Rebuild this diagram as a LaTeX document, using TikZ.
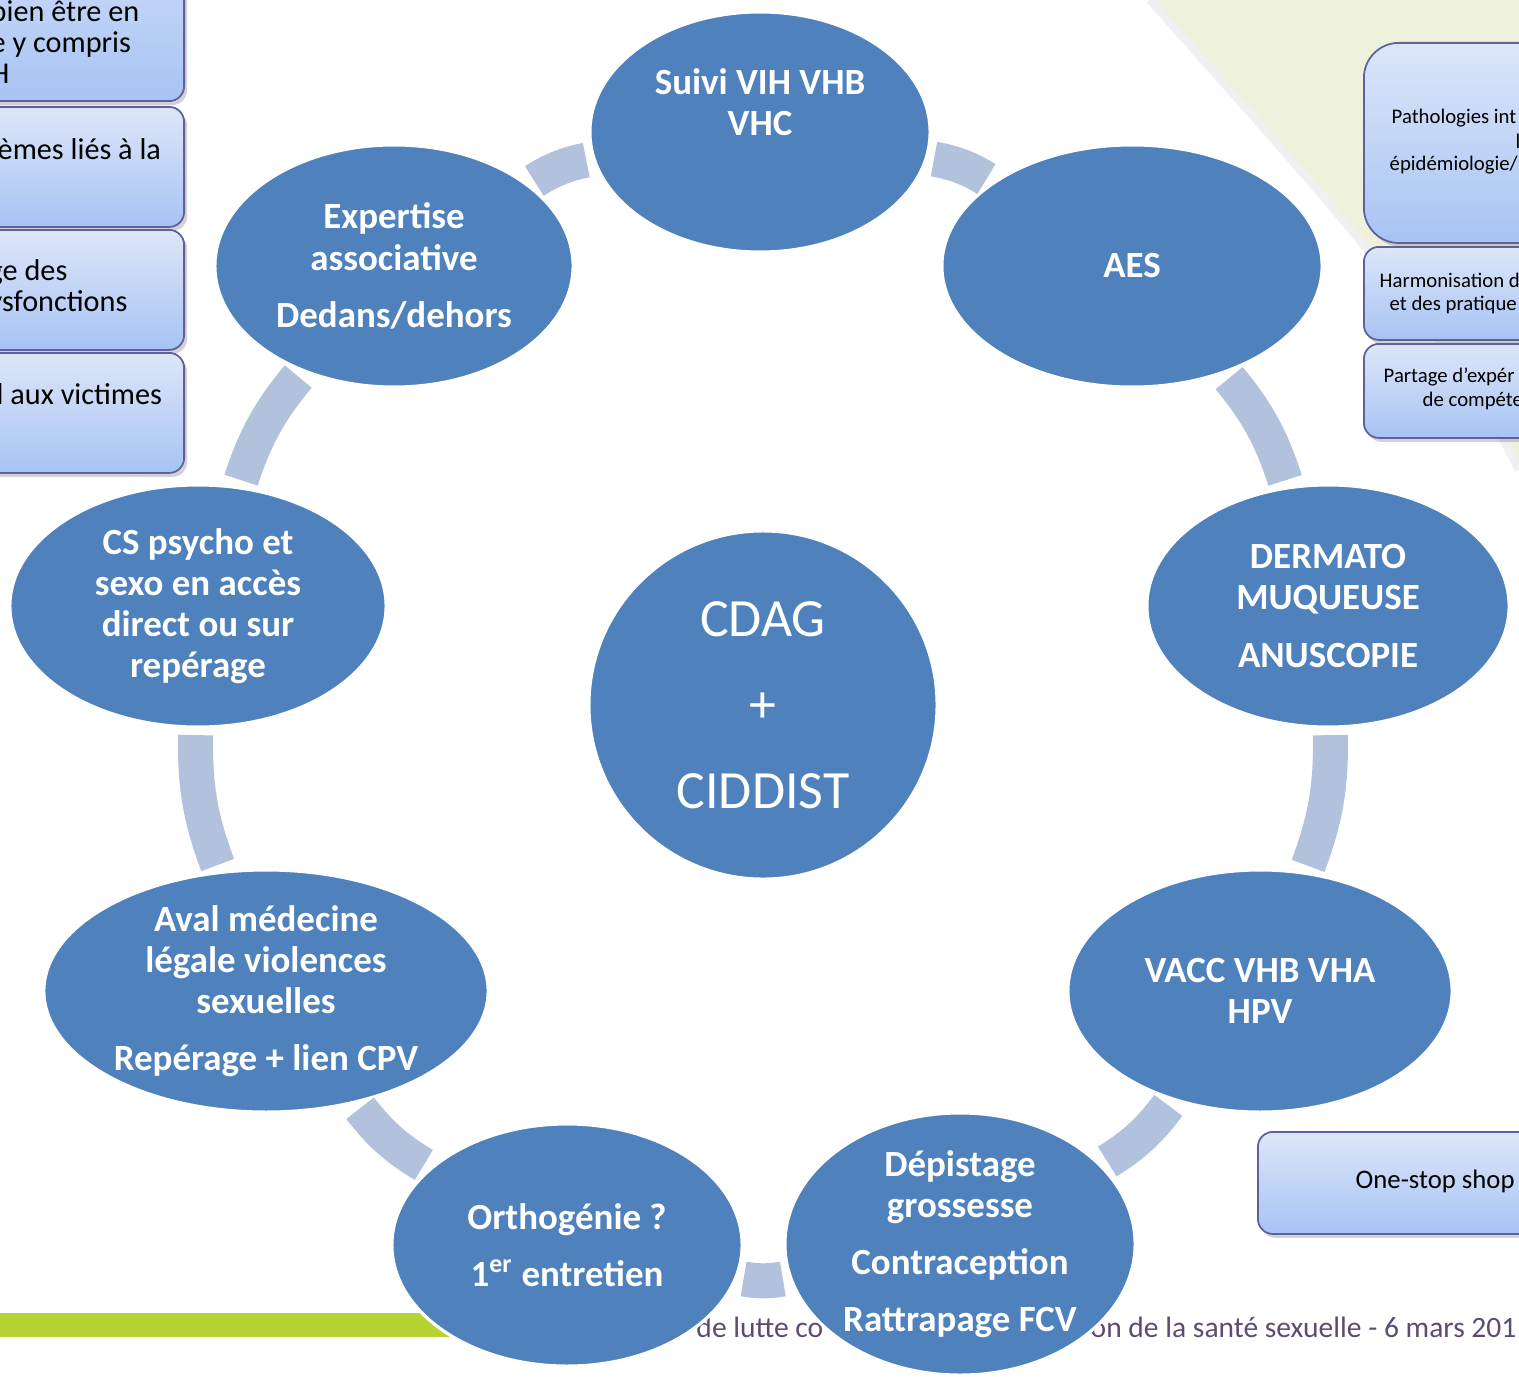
\documentclass[tikz,border=0pt]{standalone}
\usepackage{fontspec}
\setmainfont{Carlito}
\usetikzlibrary{shapes.geometric, shadows, positioning}

\definecolor{bleu}{HTML}{4F81BD}
\definecolor{anneau}{HTML}{B2C1DC}
\definecolor{haut}{HTML}{DDE6F8}
\definecolor{bas}{HTML}{A7C3F4}
\definecolor{vert}{HTML}{B6D333}
\definecolor{creme}{HTML}{EEF2DD}
\definecolor{pied}{HTML}{5E4B72}

\tikzset{
  bulle/.style={ellipse, fill=bleu, draw=white, line width=0.9pt, inner sep=0pt, outer sep=0pt},
  texte/.style={text=white, font=\bfseries\fontsize{10.5}{11.7}\selectfont, align=center},
  lien/.style={draw=anneau, line width=0.35cm, shorten <=0.08cm, shorten >=0.08cm},
  boite/.style={draw=gray!75!blue, line width=0.5pt, top color=haut, bottom color=bas,
    drop shadow={shadow xshift=0.03cm, shadow yshift=-0.04cm, opacity=0.35}},
  bribe/.style={inner sep=0pt, anchor=west, font=\fontsize{5.9}{6.8}\selectfont},
  bribeg/.style={inner sep=0pt, anchor=west, align=left, font=\fontsize{8.6}{8.7}\selectfont},
}

\begin{document}
\begin{tikzpicture}[x=0.01cm, y=-0.01cm]
    \useasboundingbox (0,0) rectangle (1519,1376);
    \clip (0,0) rectangle (1519,1376);
    \fill[white] (0,0) rectangle (1519,1376);

    % fond vert en haut a droite
    \fill[creme] (1150,0) .. controls (1300,170) and (1450,330) .. (1519,470) -- (1519,0) -- cycle;
    \draw[gray!12, line width=0.08cm] (1150,0) .. controls (1300,170) and (1450,330) .. (1519,470);

    % barre verte et pied de page
    \fill[vert] (0,1313) rectangle (650,1337);
    \node[inner sep=0pt, anchor=east, text=pied, font=\fontsize{8.4}{10}\selectfont] (pied1) at (824,1327) {de lutte co};
    \node[inner sep=0pt, anchor=west, text=pied, font=\fontsize{8.4}{10}\selectfont] (pied2) at (1090,1327) {on de la santé sexuelle - 6 mars 201};

    % boites de gauche
    \node[boite, rounded corners=0.15cm, minimum width=4cm, minimum height=2.2cm, anchor=south east] (g1) at (185,102) {};
    \node[boite, rounded corners=0.15cm, minimum width=4cm, minimum height=1.2cm, anchor=north east] (g2) at (185,106) {};
    \node[boite, rounded corners=0.15cm, minimum width=4cm, minimum height=1.2cm, anchor=north east] (g3) at (185,229) {};
    \node[boite, rounded corners=0.15cm, minimum width=4cm, minimum height=1.2cm, anchor=north east] (g4) at (185,352) {};
    \node[bribeg] (tg1) at (-10,42) {bien être en\\e y compris\\H};
    \node[bribeg] (tg2) at (-3,149) {èmes liés à la};
    \node[bribeg] (tg3) at (-12,288) {ge des\\ysfonctions};
    \node[bribeg] (tg4) at (-4,394) {l aux victimes};

    % boites de droite
    \node[boite, rounded corners=0.35cm, minimum width=3cm, minimum height=2.0cm, anchor=north west] (d1) at (1363,42) {};
    \node[boite, rounded corners=0.15cm, minimum width=3cm, minimum height=0.93cm, anchor=north west] (d2) at (1363,246) {};
    \node[boite, rounded corners=0.15cm, minimum width=3cm, minimum height=0.94cm, anchor=north west] (d3) at (1363,343) {};
    \node[boite, rounded corners=0.15cm, minimum width=4cm, minimum height=1.02cm, anchor=north west] (shop) at (1257,1131) {};
    \node[bribe] (td1a) at (1391,118) {Pathologies int};
    \node[bribe] (td1b) at (1515,141) {l};
    \node[bribe] (td1c) at (1389,165) {épidémiologie/};
    \node[bribe] (td2a) at (1379,280) {Harmonisation d};
    \node[bribe] (td2b) at (1389,305) {et des pratique};
    \node[bribe] (td3a) at (1383,377) {Partage d’expér};
    \node[bribe] (td3b) at (1422,401) {de compéte};
    \node[bribeg, font=\fontsize{7.6}{8}\selectfont] (tshop) at (1355,1181) {One-stop shop};

    % centre
    \node[circle, fill=bleu, draw=white, line width=0.9pt, minimum size=3.48cm, inner sep=0pt,
      label={[text=white, align=center, font=\fontsize{15.3}{24.5}\selectfont]center:{CDAG\\+\\CIDDIST}}] (centre) at (763,705) {};

    % bulles autour
    \node[bulle, minimum width=3.40cm, minimum height=2.40cm,
      label={[texte, yshift=0.30cm]center:{Suivi VIH VHB\\VHC}}] (suivi) at (760,132) {};
    \node[bulle, minimum width=3.80cm, minimum height=2.42cm,
      label={[texte]center:{AES}}] (aes) at (1132,266) {};
    \node[bulle, minimum width=3.62cm, minimum height=2.42cm,
      label={[texte]center:{DERMATO\\MUQUEUSE\\[0.16cm]ANUSCOPIE}}] (dermato) at (1328,606) {};
    \node[bulle, minimum width=3.84cm, minimum height=2.42cm,
      label={[texte]center:{VACC VHB VHA\\HPV}}] (vacc) at (1260,991) {};
    \node[bulle, minimum width=3.50cm, minimum height=2.62cm,
      label={[texte]center:{Dépistage\\grossesse\\[0.16cm]Contraception\\[0.16cm]Rattrapage FCV}}] (depistage) at (960,1244) {};
    \node[bulle, minimum width=3.50cm, minimum height=2.42cm,
      label={[texte]center:{Orthogénie ?\\[0.16cm]1\textsuperscript{er} entretien}}] (ortho) at (567,1245) {};
    \node[bulle, minimum width=4.44cm, minimum height=2.42cm,
      label={[texte]center:{Aval médecine\\légale violences\\sexuelles\\[0.16cm]Repérage + lien CPV}}] (aval) at (266,991) {};
    \node[bulle, minimum width=3.76cm, minimum height=2.42cm,
      label={[texte]center:{CS psycho et\\sexo en accès\\direct ou sur\\repérage}}] (psycho) at (198,606) {};
    \node[bulle, minimum width=3.58cm, minimum height=2.42cm,
      label={[texte]center:{Expertise\\associative\\[0.16cm]Dedans/dehors}}] (expertise) at (394,266) {};

    % anneau
    \foreach \a/\b in {suivi/aes, aes/dermato, dermato/vacc, vacc/depistage, depistage/ortho,
      ortho/aval, aval/psycho, psycho/expertise, expertise/suivi}
      \draw[lien] (\a) to[bend left=11] (\b);
\end{tikzpicture}
\end{document}
